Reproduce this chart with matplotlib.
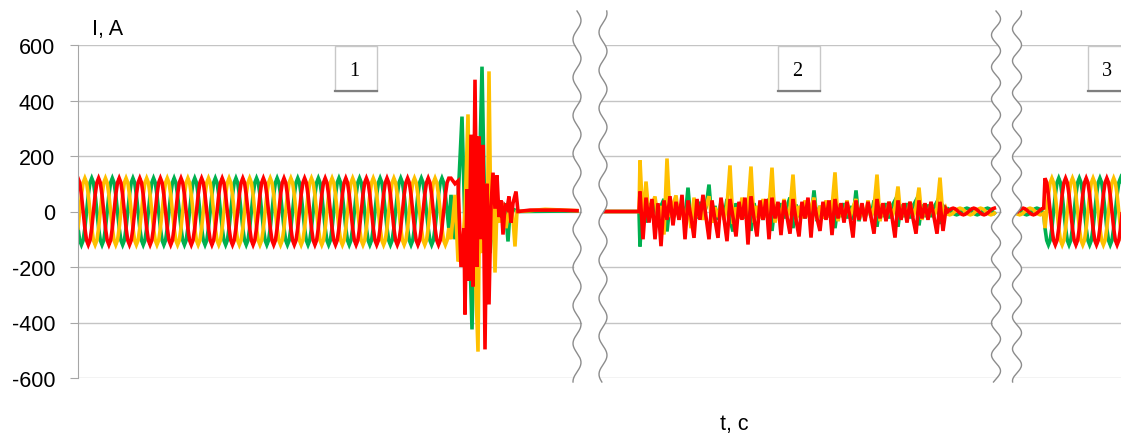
import numpy as np
import matplotlib.pyplot as plt
from matplotlib.patches import Rectangle

plt.rcParams['font.family'] = ['Liberation Sans', 'DejaVu Sans']

# ---- data (time axis in ms, current in A) ----
period = 20.6                       # ms, one period of the supply
steady_cycle = [0, 60, 104, 120, 104, 60, 0, -60, -104, -120, -104, -60]
small_cycle = [0, 6, 10, 12, 10, 6, 0, -6, -10, -12, -10, -6]
n_pre_cycles = 18                   # steady state before the fault

# fault burst (zone 1)
red_fault_t = [373, 377, 380, 383, 386, 387, 389, 391, 393, 395, 397, 399, 401, 403, 405, 407,
               409, 411, 413, 415, 417, 419, 421, 423, 425, 427, 429, 431, 433, 435, 438, 440,
               452, 482, 499]
red_fault_v = [120, 100, 110, -200, -60, -371, 80, -250, 277, -270, 475, -200, 270, -100, 240, -497,
               100, -335, 20, 140, 10, 130, -20, 40, -83, 20, 10, 54, -40, 30, 72, 0,
               5, 5, 3]
yel_fault_t = [373, 377, 380, 384, 387, 390, 392, 394, 397, 400, 402, 404, 407, 409, 411, 413,
               415, 417, 419, 422, 425, 428, 431, 434, 437, 439, 452, 467, 499]
yel_fault_v = [-100, 60, -180, -150, 0, 350, -100, 120, -180, -505, 200, -150, 100, -200, 505, -100,
               50, -220, 20, -40, 30, -60, 10, 20, -126, 0, 3, 8, 3]
grn_fault_t = [373, 377, 380, 384, 387, 390, 394, 397, 400, 404, 407, 409, 412, 415, 419, 422,
               425, 427, 430, 432, 434, 440, 499]
grn_fault_v = [60, -100, 40, 342, -60, 100, -425, 80, -100, 522, -50, 60, -150, 0, -30, 20,
               -10, 30, -108, 0, 10, 0, 2]

# zone 2: dead time, then reclosing transients sampled every 3 ms from 562 ms
dead_t = [525, 561]
trans_t0, trans_dt = 562, 3
red_trans = [72, -100, 50, -40, 45, -100, 30, -125, 40, -30, 55, -50, 35, -30, 60, -100,
             40, -20, -95, 45, -30, 60, -20, -100, 40, -30, -95, 50, -25, -107, 45, -20,
             -90, 35, -30, 50, -119, 55, -25, -90, 40, -30, 45, -100, 50, -25, 35, -85,
             40, -20, -80, 45, -30, -90, 35, -25, 50, -94, 40, -25, -70, 35, -30, 40,
             -85, 45, -25, 30, -40, 35, -20, -94, 40, -30, 30, -35, 35, -20, -80, 45,
             -25, 30, -35, 35, -20, -94, 40, -30, 30, -40, 35, -25, -80, 40, -25, 30,
             -30, 35, -20, -80, 35, -70, 10]
yel_trans = [184, -40, 108, -20, 25, 54, -30, 20, -83, 191, -20, 25, 58, -30, 20, -40,
             25, -60, 50, -20, 15, -30, 20, 55, -40, 15, -20, 25, -30, 20, 166, -45,
             15, -25, 50, -20, 15, 162, -40, 20, -25, 45, -20, 15, 158, -40, 20, -25,
             45, -20, 10, 133, -35, 20, -25, 40, -20, 15, 50, -30, 20, -25, 40, -20,
             15, 141, -35, 20, -25, 40, -20, 15, 45, -30, 20, -25, 40, -20, 15, 133,
             -35, 20, -25, 35, -20, 15, 90, -30, 20, -25, 35, -20, 15, 86, -30, 20,
             -25, 30, -15, 10, 122, -25, 10]
grn_trans = [-126, 60, -40, 30, -20, 40, -30, 20, 45, -72, 30, -25, 40, -20, 25, -30,
             86, -40, 20, -25, 35, -20, 15, 97, -40, 20, -30, 35, -20, 45, -30, -72,
             30, -20, 25, -25, 45, -70, 30, -20, 25, -30, 20, 45, -70, 25, -20, 30,
             -25, 20, 50, -60, 25, -20, 30, -25, 20, -30, 76, -35, 20, -25, 30, -20,
             40, -60, 25, -20, 30, -25, 20, -30, 76, -35, 20, -25, 30, -20, 40, -55,
             25, -20, 30, -25, 20, 40, -55, 25, -20, 30, -25, 20, 40, -50, 25, -20,
             25, -20, 15, 35, -45, 20, 5]
tail2_t0, tail2_n = 870, 28         # small residual current at the end of zone 2
tail3_t0, tail3_n = 940, 16         # zone 3 before restoration
post_t0, post_n = 967, 47           # restored steady state

yticks = [-600, -400, -200, 0, 200, 400, 600]
ytick_labels = ['-600', '-400', '-200', '0', '200', '400', '600']
zone_labels = ['1', '2', '3']

colors = {'green': '#00b050', 'yellow': '#ffc000', 'red': '#ff0000'}
shift = {'red': 3, 'yellow': -1, 'green': 7}    # sample offsets (120 deg = 4 samples)
dt = period / len(steady_cycle)


def periodic(cyc, n, k0):
    return [cyc[(k + k0) % len(cyc)] for k in range(n)]


def phase_series(name, fault_t, fault_v, trans):
    k0 = shift[name]
    n_pre = n_pre_cycles * len(steady_cycle) + 1
    t = list(np.arange(n_pre) * dt)
    v = periodic(steady_cycle, n_pre, k0)
    t += fault_t
    v += fault_v
    t += [np.nan]
    v += [np.nan]
    t += dead_t
    v += [0, 0]
    t += list(trans_t0 + trans_dt * np.arange(len(trans)))
    v += trans
    t += list(tail2_t0 + dt * np.arange(tail2_n))
    v += periodic(small_cycle, tail2_n, k0 - 3)
    t += [np.nan]
    v += [np.nan]
    t += list(tail3_t0 + dt * np.arange(tail3_n))
    v += periodic(small_cycle, tail3_n, k0 - 3)
    t += list(post_t0 + dt * np.arange(post_n))
    v += periodic(steady_cycle, post_n, k0)
    return t, v


W, H = 1121, 435
fig = plt.figure(figsize=(W / 100, H / 100), dpi=100)
ax = fig.add_axes([78 / W, 1 - 379 / H, 1 - 78 / W, 333 / H])

for name, ft, fv, tr in [('green', grn_fault_t, grn_fault_v, grn_trans),
                         ('yellow', yel_fault_t, yel_fault_v, yel_trans),
                         ('red', red_fault_t, red_fault_v, red_trans)]:
    t, v = phase_series(name, ft, fv, tr)
    ax.plot(t, v, color=colors[name], linewidth=2.6, solid_joinstyle='miter')

ax.set_xlim(0, 1043)
ax.set_ylim(-600, 600)
ax.set_yticks(yticks)
ax.set_yticklabels(ytick_labels)
ax.set_xticks([])
ax.grid(axis='y', color='#c4c4c4', linewidth=1.0)
ax.set_axisbelow(True)
for s in ['top', 'right', 'bottom']:
    ax.spines[s].set_visible(False)
ax.spines['left'].set_color('#a6a6a6')
ax.tick_params(axis='y', length=5.5, color='#a6a6a6', pad=11, labelsize=15.5, labelcolor='black')

# overlay in pixel coordinates for the axis breaks and zone boxes
ov = fig.add_axes([0, 0, 1, 1], facecolor='none')
ov.set_xlim(0, W)
ov.set_ylim(H, 0)
ov.axis('off')

yy = np.linspace(12, 383, 400)


def wavy(xc, amp, per, ph):
    return xc + amp * np.sin(2 * np.pi * (yy - 12) / per + ph)


for xl, xr, amp, per in [(577, 603, 4.0, 38), (996, 1017, 4.5, 32)]:
    left = wavy(xl, amp, per, 0.0)
    right = wavy(xr, amp, per, 1.2)
    ov.fill_betweenx(yy, left + 1.5, right - 1.5, color='white', zorder=1)
    ov.plot(left, yy, color='#8c8c8c', linewidth=1.0, zorder=2)
    ov.plot(right, yy, color='#8c8c8c', linewidth=1.0, zorder=2)

for lab, x0 in zip(zone_labels, [335, 778, 1088]):
    ov.add_patch(Rectangle((x0, 47), 42, 45, facecolor='white', edgecolor='#c8c8c8',
                           linewidth=1.0, zorder=3))
    ov.plot([x0, x0 + 42], [92, 92], color='#7f7f7f', linewidth=1.6, zorder=4)
    ov.text(x0 + 19, 71, lab, family=['Liberation Serif', 'DejaVu Serif'], fontsize=14.5,
            ha='center', va='center', zorder=5)

ov.text(92, 29, 'I, A', fontsize=15.5, ha='left', va='center')
ov.text(734, 425, 't, c', fontsize=15.5, ha='center', va='center')

fig.savefig('out.png', dpi=100)
